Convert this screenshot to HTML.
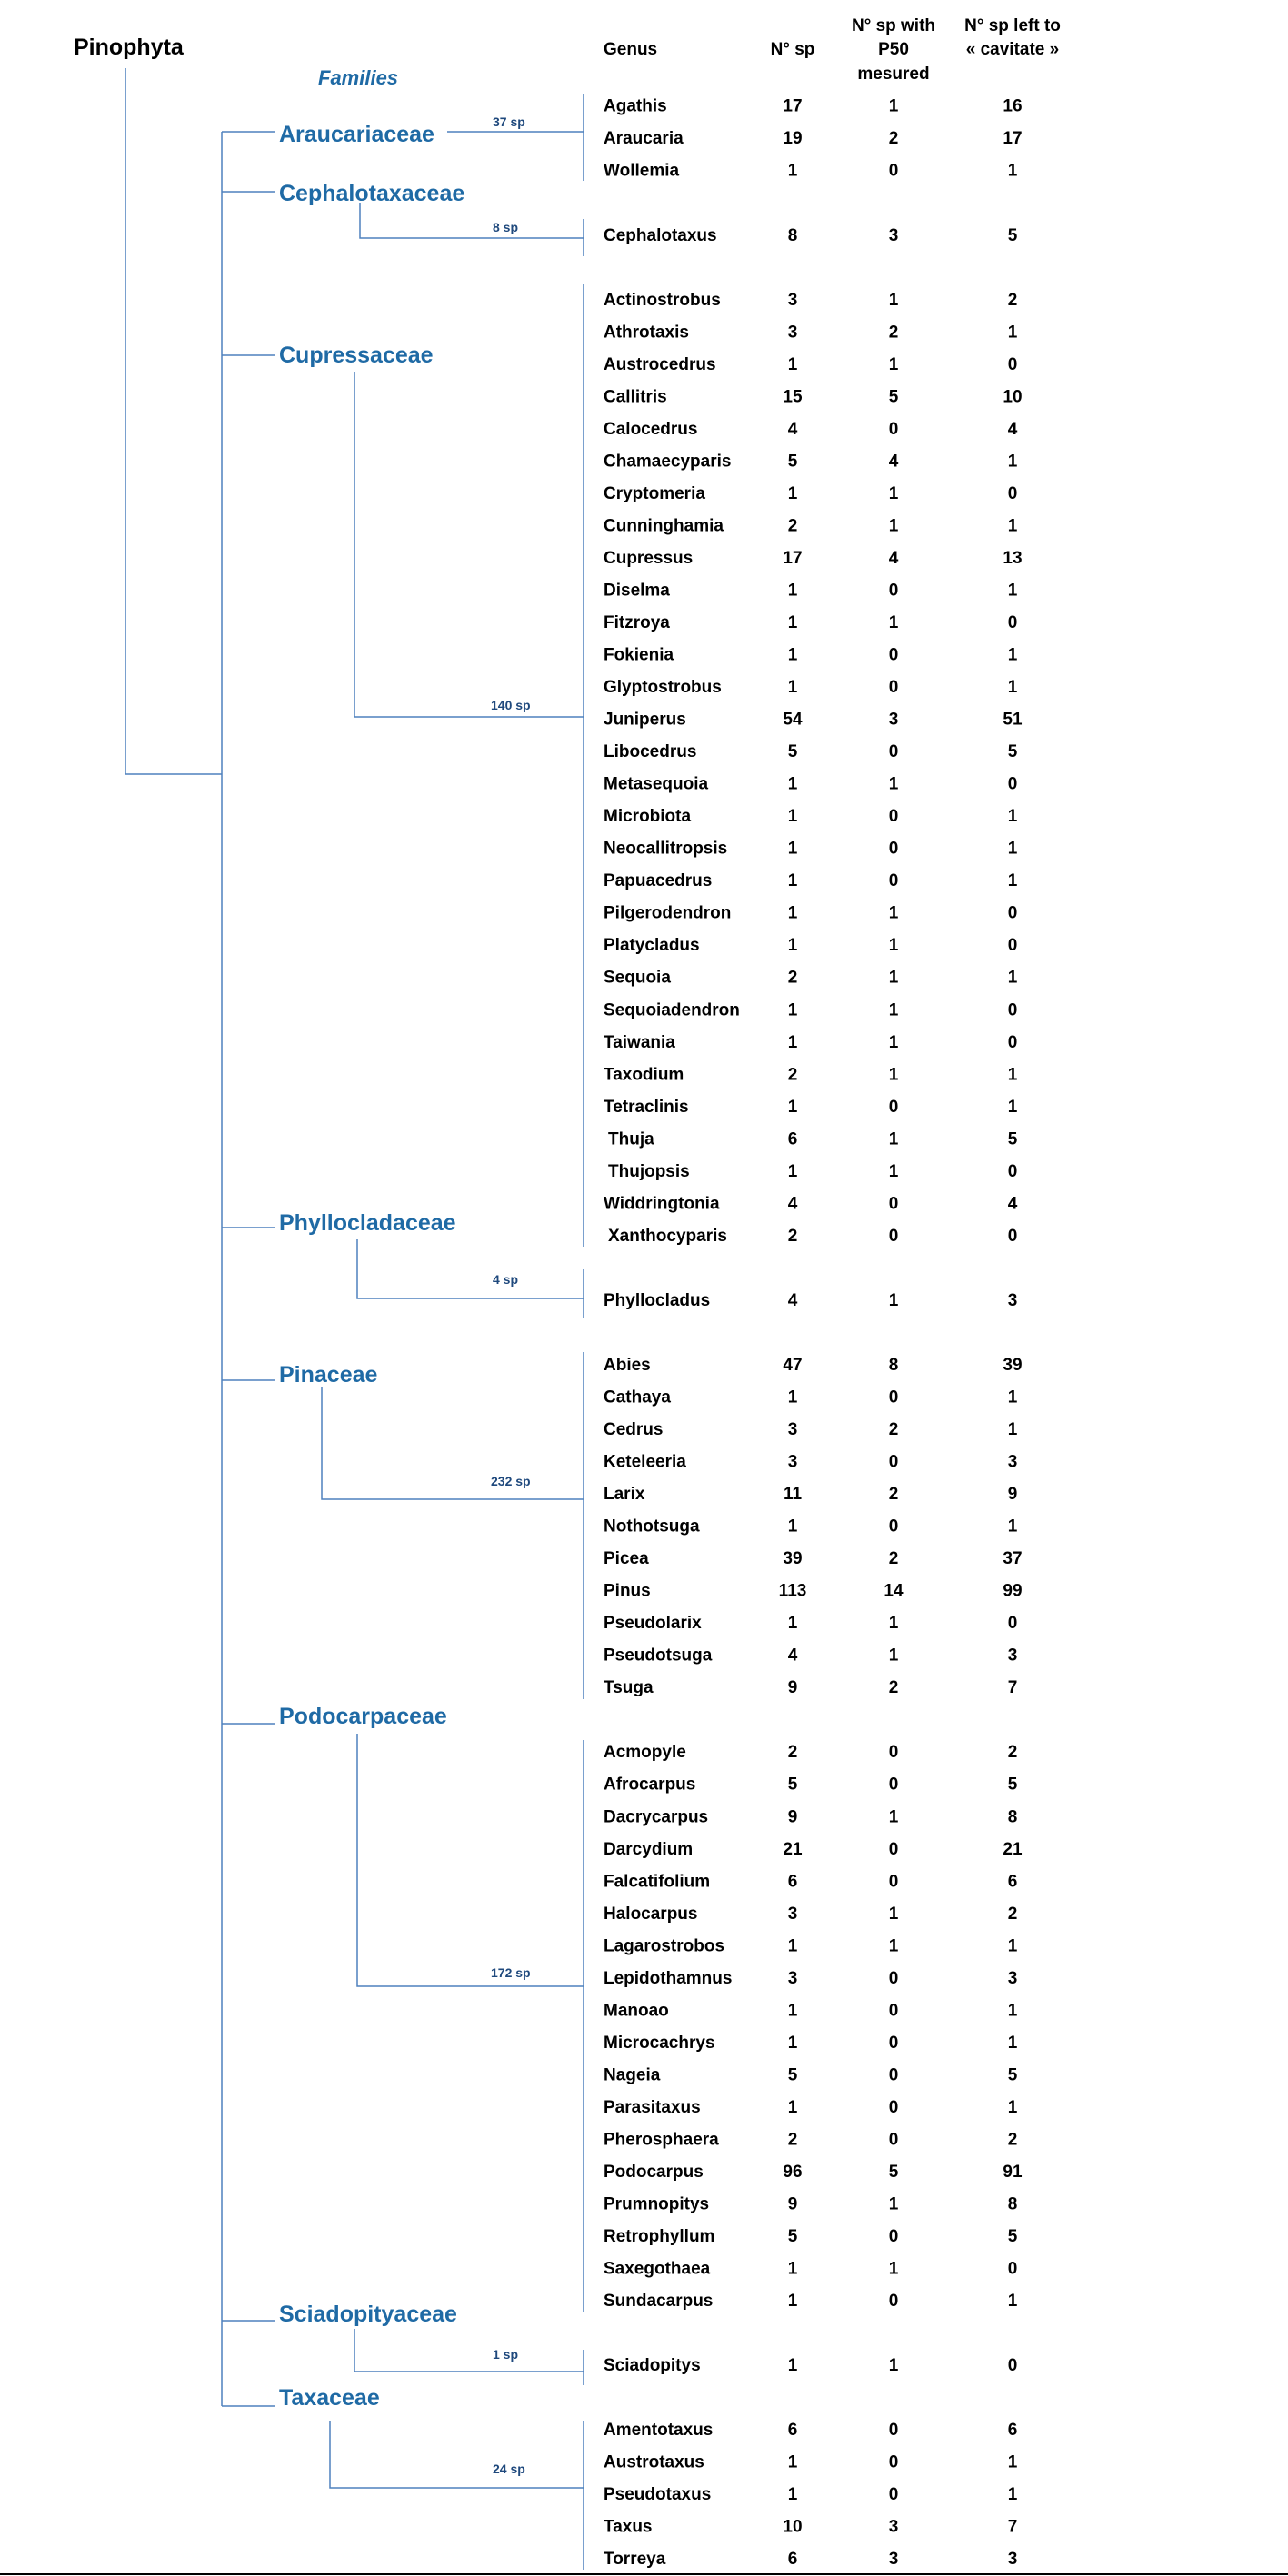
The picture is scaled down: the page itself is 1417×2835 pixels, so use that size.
<!DOCTYPE html>
<html><head><meta charset="utf-8"><style>
html,body{margin:0;padding:0;background:#fff;}
svg{display:block;}
.g{font:bold 19px "Liberation Sans",sans-serif;fill:#000;}
.n{font:bold 19px "Liberation Sans",sans-serif;fill:#000;text-anchor:middle;}
.f{font:bold 25px "Liberation Sans",sans-serif;fill:#1f6aa5;}
.s{font:bold 14px "Liberation Sans",sans-serif;fill:#1f497d;}
.l{stroke:#4f81bd;stroke-width:1.5;fill:none;}
</style></head><body>
<svg width="1417" height="2835" viewBox="0 0 1417 2835" xmlns="http://www.w3.org/2000/svg">
<text x="81" y="60" style="font:bold 25px 'Liberation Sans',sans-serif;fill:#000">Pinophyta</text>
<text x="350" y="93" style="font:italic bold 22px 'Liberation Sans',sans-serif;fill:#1f6aa5">Families</text>
<text class="g" x="664" y="60">Genus</text>
<text class="n" x="872" y="60">N° sp</text>
<text class="n" x="983" y="34">N° sp with</text>
<text class="n" x="983" y="60">P50</text>
<text class="n" x="983" y="87">mesured</text>
<text class="n" x="1114" y="34">N° sp left to</text>
<text class="n" x="1114" y="60">« cavitate »</text>

<path class="l" d="M138 75V852H244"/>
<path class="l" d="M244 145V2648"/>
<path class="l" d="M244 145H302M244 211H302M244 391H302M244 1351H302M244 1519H302M244 1897H302M244 2554H302M244 2648H302"/>
<path class="l" d="M492 145H642"/>
<path class="l" d="M396 223V262H642"/>
<path class="l" d="M390 409V789H642"/>
<path class="l" d="M393 1364V1429H642"/>
<path class="l" d="M354 1526V1650H642"/>
<path class="l" d="M393 1908V2186H642"/>
<path class="l" d="M390 2563V2610H642"/>
<path class="l" d="M363 2664V2738H642"/>
<path class="l" d="M642 103V199M642 241V282M642 313V1372M642 1397V1450M642 1488V1870M642 1915V2545M642 2586V2625M642 2664V2828"/>
<line x1="0" y1="2833" x2="1417" y2="2833" stroke="#000" stroke-width="2"/>

<text class="f" x="307" y="156">Araucariaceae</text>
<text class="f" x="307" y="221">Cephalotaxaceae</text>
<text class="f" x="307" y="399">Cupressaceae</text>
<text class="f" x="307" y="1354">Phyllocladaceae</text>
<text class="f" x="307" y="1521">Pinaceae</text>
<text class="f" x="307" y="1897">Podocarpaceae</text>
<text class="f" x="307" y="2555">Sciadopityaceae</text>
<text class="f" x="307" y="2647">Taxaceae</text>

<text class="s" x="542" y="139">37 sp</text>
<text class="s" x="542" y="255">8 sp</text>
<text class="s" x="540" y="781">140 sp</text>
<text class="s" x="542" y="1413">4 sp</text>
<text class="s" x="540" y="1635">232 sp</text>
<text class="s" x="540" y="2176">172 sp</text>
<text class="s" x="542" y="2596">1 sp</text>
<text class="s" x="542" y="2722">24 sp</text>

<g>
<text class="g" x="664" y="122.7">Agathis</text><text class="n" x="872" y="122.7">17</text><text class="n" x="983" y="122.7">1</text><text class="n" x="1114" y="122.7">16</text>
<text class="g" x="664" y="158.2">Araucaria</text><text class="n" x="872" y="158.2">19</text><text class="n" x="983" y="158.2">2</text><text class="n" x="1114" y="158.2">17</text>
<text class="g" x="664" y="193.7">Wollemia</text><text class="n" x="872" y="193.7">1</text><text class="n" x="983" y="193.7">0</text><text class="n" x="1114" y="193.7">1</text>
<text class="g" x="664" y="264.8">Cephalotaxus</text><text class="n" x="872" y="264.8">8</text><text class="n" x="983" y="264.8">3</text><text class="n" x="1114" y="264.8">5</text>
<text class="g" x="664" y="335.8">Actinostrobus</text><text class="n" x="872" y="335.8">3</text><text class="n" x="983" y="335.8">1</text><text class="n" x="1114" y="335.8">2</text>
<text class="g" x="664" y="371.3">Athrotaxis</text><text class="n" x="872" y="371.3">3</text><text class="n" x="983" y="371.3">2</text><text class="n" x="1114" y="371.3">1</text>
<text class="g" x="664" y="406.9">Austrocedrus</text><text class="n" x="872" y="406.9">1</text><text class="n" x="983" y="406.9">1</text><text class="n" x="1114" y="406.9">0</text>
<text class="g" x="664" y="442.4">Callitris</text><text class="n" x="872" y="442.4">15</text><text class="n" x="983" y="442.4">5</text><text class="n" x="1114" y="442.4">10</text>
<text class="g" x="664" y="477.9">Calocedrus</text><text class="n" x="872" y="477.9">4</text><text class="n" x="983" y="477.9">0</text><text class="n" x="1114" y="477.9">4</text>
<text class="g" x="664" y="513.4">Chamaecyparis</text><text class="n" x="872" y="513.4">5</text><text class="n" x="983" y="513.4">4</text><text class="n" x="1114" y="513.4">1</text>
<text class="g" x="664" y="549.0">Cryptomeria</text><text class="n" x="872" y="549.0">1</text><text class="n" x="983" y="549.0">1</text><text class="n" x="1114" y="549.0">0</text>
<text class="g" x="664" y="584.5">Cunninghamia</text><text class="n" x="872" y="584.5">2</text><text class="n" x="983" y="584.5">1</text><text class="n" x="1114" y="584.5">1</text>
<text class="g" x="664" y="620.0">Cupressus</text><text class="n" x="872" y="620.0">17</text><text class="n" x="983" y="620.0">4</text><text class="n" x="1114" y="620.0">13</text>
<text class="g" x="664" y="655.5">Diselma</text><text class="n" x="872" y="655.5">1</text><text class="n" x="983" y="655.5">0</text><text class="n" x="1114" y="655.5">1</text>
<text class="g" x="664" y="691.0">Fitzroya</text><text class="n" x="872" y="691.0">1</text><text class="n" x="983" y="691.0">1</text><text class="n" x="1114" y="691.0">0</text>
<text class="g" x="664" y="726.5">Fokienia</text><text class="n" x="872" y="726.5">1</text><text class="n" x="983" y="726.5">0</text><text class="n" x="1114" y="726.5">1</text>
<text class="g" x="664" y="762.1">Glyptostrobus</text><text class="n" x="872" y="762.1">1</text><text class="n" x="983" y="762.1">0</text><text class="n" x="1114" y="762.1">1</text>
<text class="g" x="664" y="797.6">Juniperus</text><text class="n" x="872" y="797.6">54</text><text class="n" x="983" y="797.6">3</text><text class="n" x="1114" y="797.6">51</text>
<text class="g" x="664" y="833.1">Libocedrus</text><text class="n" x="872" y="833.1">5</text><text class="n" x="983" y="833.1">0</text><text class="n" x="1114" y="833.1">5</text>
<text class="g" x="664" y="868.6">Metasequoia</text><text class="n" x="872" y="868.6">1</text><text class="n" x="983" y="868.6">1</text><text class="n" x="1114" y="868.6">0</text>
<text class="g" x="664" y="904.1">Microbiota</text><text class="n" x="872" y="904.1">1</text><text class="n" x="983" y="904.1">0</text><text class="n" x="1114" y="904.1">1</text>
<text class="g" x="664" y="939.7">Neocallitropsis</text><text class="n" x="872" y="939.7">1</text><text class="n" x="983" y="939.7">0</text><text class="n" x="1114" y="939.7">1</text>
<text class="g" x="664" y="975.2">Papuacedrus</text><text class="n" x="872" y="975.2">1</text><text class="n" x="983" y="975.2">0</text><text class="n" x="1114" y="975.2">1</text>
<text class="g" x="664" y="1010.7">Pilgerodendron</text><text class="n" x="872" y="1010.7">1</text><text class="n" x="983" y="1010.7">1</text><text class="n" x="1114" y="1010.7">0</text>
<text class="g" x="664" y="1046.2">Platycladus</text><text class="n" x="872" y="1046.2">1</text><text class="n" x="983" y="1046.2">1</text><text class="n" x="1114" y="1046.2">0</text>
<text class="g" x="664" y="1081.7">Sequoia</text><text class="n" x="872" y="1081.7">2</text><text class="n" x="983" y="1081.7">1</text><text class="n" x="1114" y="1081.7">1</text>
<text class="g" x="664" y="1117.3">Sequoiadendron</text><text class="n" x="872" y="1117.3">1</text><text class="n" x="983" y="1117.3">1</text><text class="n" x="1114" y="1117.3">0</text>
<text class="g" x="664" y="1152.8">Taiwania</text><text class="n" x="872" y="1152.8">1</text><text class="n" x="983" y="1152.8">1</text><text class="n" x="1114" y="1152.8">0</text>
<text class="g" x="664" y="1188.3">Taxodium</text><text class="n" x="872" y="1188.3">2</text><text class="n" x="983" y="1188.3">1</text><text class="n" x="1114" y="1188.3">1</text>
<text class="g" x="664" y="1223.8">Tetraclinis</text><text class="n" x="872" y="1223.8">1</text><text class="n" x="983" y="1223.8">0</text><text class="n" x="1114" y="1223.8">1</text>
<text class="g" x="669" y="1259.3">Thuja</text><text class="n" x="872" y="1259.3">6</text><text class="n" x="983" y="1259.3">1</text><text class="n" x="1114" y="1259.3">5</text>
<text class="g" x="669" y="1294.9">Thujopsis</text><text class="n" x="872" y="1294.9">1</text><text class="n" x="983" y="1294.9">1</text><text class="n" x="1114" y="1294.9">0</text>
<text class="g" x="664" y="1330.4">Widdringtonia</text><text class="n" x="872" y="1330.4">4</text><text class="n" x="983" y="1330.4">0</text><text class="n" x="1114" y="1330.4">4</text>
<text class="g" x="669" y="1365.9">Xanthocyparis</text><text class="n" x="872" y="1365.9">2</text><text class="n" x="983" y="1365.9">0</text><text class="n" x="1114" y="1365.9">0</text>
<text class="g" x="664" y="1436.9">Phyllocladus</text><text class="n" x="872" y="1436.9">4</text><text class="n" x="983" y="1436.9">1</text><text class="n" x="1114" y="1436.9">3</text>
<text class="g" x="664" y="1508.0">Abies</text><text class="n" x="872" y="1508.0">47</text><text class="n" x="983" y="1508.0">8</text><text class="n" x="1114" y="1508.0">39</text>
<text class="g" x="664" y="1543.5">Cathaya</text><text class="n" x="872" y="1543.5">1</text><text class="n" x="983" y="1543.5">0</text><text class="n" x="1114" y="1543.5">1</text>
<text class="g" x="664" y="1579.0">Cedrus</text><text class="n" x="872" y="1579.0">3</text><text class="n" x="983" y="1579.0">2</text><text class="n" x="1114" y="1579.0">1</text>
<text class="g" x="664" y="1614.5">Keteleeria</text><text class="n" x="872" y="1614.5">3</text><text class="n" x="983" y="1614.5">0</text><text class="n" x="1114" y="1614.5">3</text>
<text class="g" x="664" y="1650.1">Larix</text><text class="n" x="872" y="1650.1">11</text><text class="n" x="983" y="1650.1">2</text><text class="n" x="1114" y="1650.1">9</text>
<text class="g" x="664" y="1685.6">Nothotsuga</text><text class="n" x="872" y="1685.6">1</text><text class="n" x="983" y="1685.6">0</text><text class="n" x="1114" y="1685.6">1</text>
<text class="g" x="664" y="1721.1">Picea</text><text class="n" x="872" y="1721.1">39</text><text class="n" x="983" y="1721.1">2</text><text class="n" x="1114" y="1721.1">37</text>
<text class="g" x="664" y="1756.6">Pinus</text><text class="n" x="872" y="1756.6">113</text><text class="n" x="983" y="1756.6">14</text><text class="n" x="1114" y="1756.6">99</text>
<text class="g" x="664" y="1792.1">Pseudolarix</text><text class="n" x="872" y="1792.1">1</text><text class="n" x="983" y="1792.1">1</text><text class="n" x="1114" y="1792.1">0</text>
<text class="g" x="664" y="1827.7">Pseudotsuga</text><text class="n" x="872" y="1827.7">4</text><text class="n" x="983" y="1827.7">1</text><text class="n" x="1114" y="1827.7">3</text>
<text class="g" x="664" y="1863.2">Tsuga</text><text class="n" x="872" y="1863.2">9</text><text class="n" x="983" y="1863.2">2</text><text class="n" x="1114" y="1863.2">7</text>
<text class="g" x="664" y="1934.2">Acmopyle</text><text class="n" x="872" y="1934.2">2</text><text class="n" x="983" y="1934.2">0</text><text class="n" x="1114" y="1934.2">2</text>
<text class="g" x="664" y="1969.7">Afrocarpus</text><text class="n" x="872" y="1969.7">5</text><text class="n" x="983" y="1969.7">0</text><text class="n" x="1114" y="1969.7">5</text>
<text class="g" x="664" y="2005.3">Dacrycarpus</text><text class="n" x="872" y="2005.3">9</text><text class="n" x="983" y="2005.3">1</text><text class="n" x="1114" y="2005.3">8</text>
<text class="g" x="664" y="2040.8">Darcydium</text><text class="n" x="872" y="2040.8">21</text><text class="n" x="983" y="2040.8">0</text><text class="n" x="1114" y="2040.8">21</text>
<text class="g" x="664" y="2076.3">Falcatifolium</text><text class="n" x="872" y="2076.3">6</text><text class="n" x="983" y="2076.3">0</text><text class="n" x="1114" y="2076.3">6</text>
<text class="g" x="664" y="2111.8">Halocarpus</text><text class="n" x="872" y="2111.8">3</text><text class="n" x="983" y="2111.8">1</text><text class="n" x="1114" y="2111.8">2</text>
<text class="g" x="664" y="2147.3">Lagarostrobos</text><text class="n" x="872" y="2147.3">1</text><text class="n" x="983" y="2147.3">1</text><text class="n" x="1114" y="2147.3">1</text>
<text class="g" x="664" y="2182.9">Lepidothamnus</text><text class="n" x="872" y="2182.9">3</text><text class="n" x="983" y="2182.9">0</text><text class="n" x="1114" y="2182.9">3</text>
<text class="g" x="664" y="2218.4">Manoao</text><text class="n" x="872" y="2218.4">1</text><text class="n" x="983" y="2218.4">0</text><text class="n" x="1114" y="2218.4">1</text>
<text class="g" x="664" y="2253.9">Microcachrys</text><text class="n" x="872" y="2253.9">1</text><text class="n" x="983" y="2253.9">0</text><text class="n" x="1114" y="2253.9">1</text>
<text class="g" x="664" y="2289.4">Nageia</text><text class="n" x="872" y="2289.4">5</text><text class="n" x="983" y="2289.4">0</text><text class="n" x="1114" y="2289.4">5</text>
<text class="g" x="664" y="2324.9">Parasitaxus</text><text class="n" x="872" y="2324.9">1</text><text class="n" x="983" y="2324.9">0</text><text class="n" x="1114" y="2324.9">1</text>
<text class="g" x="664" y="2360.4">Pherosphaera</text><text class="n" x="872" y="2360.4">2</text><text class="n" x="983" y="2360.4">0</text><text class="n" x="1114" y="2360.4">2</text>
<text class="g" x="664" y="2396.0">Podocarpus</text><text class="n" x="872" y="2396.0">96</text><text class="n" x="983" y="2396.0">5</text><text class="n" x="1114" y="2396.0">91</text>
<text class="g" x="664" y="2431.5">Prumnopitys</text><text class="n" x="872" y="2431.5">9</text><text class="n" x="983" y="2431.5">1</text><text class="n" x="1114" y="2431.5">8</text>
<text class="g" x="664" y="2467.0">Retrophyllum</text><text class="n" x="872" y="2467.0">5</text><text class="n" x="983" y="2467.0">0</text><text class="n" x="1114" y="2467.0">5</text>
<text class="g" x="664" y="2502.5">Saxegothaea</text><text class="n" x="872" y="2502.5">1</text><text class="n" x="983" y="2502.5">1</text><text class="n" x="1114" y="2502.5">0</text>
<text class="g" x="664" y="2538.0">Sundacarpus</text><text class="n" x="872" y="2538.0">1</text><text class="n" x="983" y="2538.0">0</text><text class="n" x="1114" y="2538.0">1</text>
<text class="g" x="664" y="2609.1">Sciadopitys</text><text class="n" x="872" y="2609.1">1</text><text class="n" x="983" y="2609.1">1</text><text class="n" x="1114" y="2609.1">0</text>
<text class="g" x="664" y="2680.1">Amentotaxus</text><text class="n" x="872" y="2680.1">6</text><text class="n" x="983" y="2680.1">0</text><text class="n" x="1114" y="2680.1">6</text>
<text class="g" x="664" y="2715.6">Austrotaxus</text><text class="n" x="872" y="2715.6">1</text><text class="n" x="983" y="2715.6">0</text><text class="n" x="1114" y="2715.6">1</text>
<text class="g" x="664" y="2751.2">Pseudotaxus</text><text class="n" x="872" y="2751.2">1</text><text class="n" x="983" y="2751.2">0</text><text class="n" x="1114" y="2751.2">1</text>
<text class="g" x="664" y="2786.7">Taxus</text><text class="n" x="872" y="2786.7">10</text><text class="n" x="983" y="2786.7">3</text><text class="n" x="1114" y="2786.7">7</text>
<text class="g" x="664" y="2822.2">Torreya</text><text class="n" x="872" y="2822.2">6</text><text class="n" x="983" y="2822.2">3</text><text class="n" x="1114" y="2822.2">3</text>
</g>
</svg>
</body></html>
